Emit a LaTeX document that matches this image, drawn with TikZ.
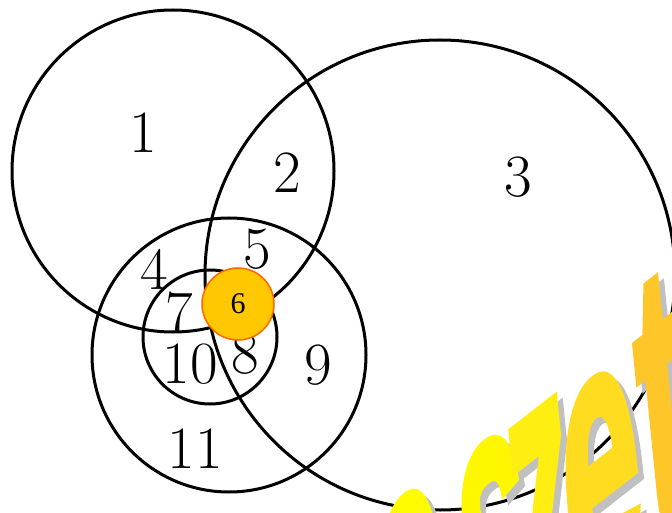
\documentclass[tikz,border=0pt]{standalone}
\usepackage{fontspec}
\newfontfamily\sixfont{Liberation Serif}
\newfontfamily\wmfont{Liberation Sans}[FakeBold=2.5]
\definecolor{sixfill}{RGB}{255,200,0}
\definecolor{sixdraw}{RGB}{255,102,0}
\definecolor{wZ}{RGB}{255,252,0}
\definecolor{wA}{RGB}{255,247,0}
\definecolor{wA2}{RGB}{255,238,18}
\definecolor{wB}{RGB}{255,220,32}
\definecolor{wC}{RGB}{255,198,42}
\definecolor{wD}{RGB}{255,180,46}
\definecolor{wgray}{RGB}{192,192,192}
% name, x, y, colour, letter, a, b
\newcommand\wmletter[7]{%
  \begin{scope}[cm={#6,#7,-0.1,0.995,(#2,#3)}]
    \node[wm, text=#4] (#1) at (0,0) {#5};
  \end{scope}}
\begin{document}
\begin{tikzpicture}[x=1pt,y=-1pt,
  circ/.style={draw=black, line width=3pt},
  lbl/.style={inner sep=0pt, font=\fontsize{60}{60}\selectfont},
  wm/.style={transform shape, anchor=base, inner sep=0pt, font=\wmfont\bfseries\fontsize{380}{380}\selectfont}]
\useasboundingbox (0,0) rectangle (672,513);
\clip (0,0) rectangle (672,513);
% circles
\draw[circ] (173,171) circle[radius=161pt];
\draw[circ] (440,275) circle[radius=235pt];
\draw[circ] (229,355) circle[radius=137pt];
\draw[circ] (210,337) circle[radius=67pt];
% labels
\node[lbl] (l1) at (143,133) {1};
\node[lbl] (l2) at (287,173) {2};
\node[lbl] (l3) at (518,177) {3};
\node[lbl] (l4) at (154,269) {4};
\node[lbl] (l5) at (257,249) {5};
\node[lbl] (l7) at (179,313) {7};
\node[lbl] (l10) at (190,364) {10};
\node[lbl] (l8) at (245,354) {8};
\node[lbl] (l9) at (318,365) {9};
\node[lbl] (l11) at (195,449) {11};
% highlighted region 6
\node[circle, fill=sixfill, draw=sixdraw, line width=1.5pt, minimum size=72pt, inner sep=0pt,
      font=\sixfont\fontsize{30}{30}\selectfont] (six) at (238,304) {6};
% watermark: shadows
\wmletter{ws0}{431}{707}{wgray}{a}{0.315}{0.246}
\wmletter{ws1}{511}{654}{wgray}{s}{0.315}{0.246}
\wmletter{ws2}{559}{621}{wgray}{z}{0.315}{0.246}
\wmletter{ws3}{618}{591}{wgray}{e}{0.355}{0.277}
\wmletter{ws4}{681}{536}{wgray}{t}{0.355}{0.277}
\wmletter{ws5}{726}{503}{wgray}{t}{0.355}{0.277}
% watermark: letters
\wmletter{wm0}{425}{701}{wZ}{a}{0.315}{0.246}
\wmletter{wm1}{505}{648}{wA}{s}{0.315}{0.246}
\wmletter{wm2}{553}{615}{wA2}{z}{0.315}{0.246}
\wmletter{wm3}{612}{585}{wB}{e}{0.355}{0.277}
\wmletter{wm4}{675}{530}{wC}{t}{0.355}{0.277}
\wmletter{wm5}{720}{497}{wD}{t}{0.355}{0.277}
\end{tikzpicture}
\end{document}
